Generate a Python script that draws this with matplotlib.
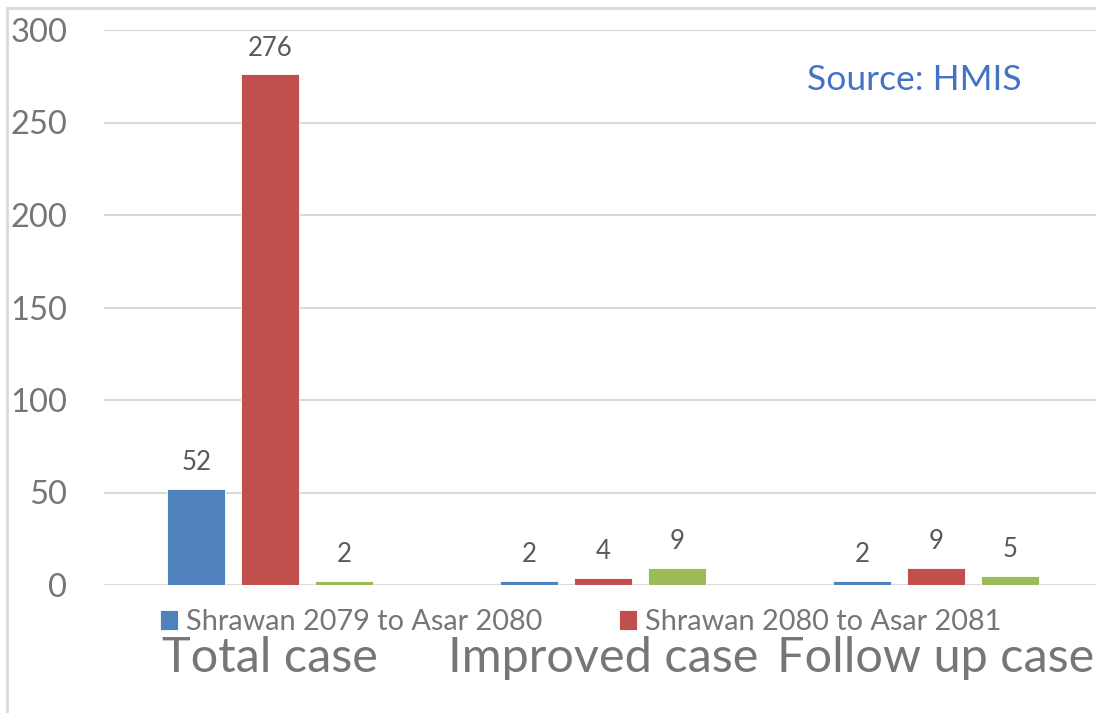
import numpy as np
import matplotlib
matplotlib.use("Agg")
import matplotlib.pyplot as plt
from matplotlib.patches import Rectangle

plt.rcParams['font.family'] = ['Lato', 'DejaVu Sans']

categories = ["Total case", "Improved case", "Follow up case"]
series_names = ["Shrawan 2079 to Asar 2080", "Shrawan 2080 to Asar 2081", "_nolegend_"]
values_2079 = [52, 2, 2]
values_2080 = [276, 4, 9]
values_third = [2, 9, 5]
colors = ["#4F81BD", "#C0504D", "#9BBB59"]
yticks = [0, 50, 100, 150, 200, 250, 300]

fig = plt.figure(figsize=(10.96, 7.13), dpi=100)
ax = fig.add_axes([103.5 / 1096, 128 / 713, 999 / 1096, 555 / 713])

# chart area border (partially visible)
fig.patches.append(Rectangle((7 / 1096, -0.05), 1.2, 1.05 - 8 / 713,
                             transform=fig.transFigure, fill=False,
                             edgecolor="#d9d9d9", linewidth=2))

x = np.arange(len(categories))
step = 0.222
width = 0.174
all_series = [values_2079, values_2080, values_third]
for i, (vals, name, c) in enumerate(zip(all_series, series_names, colors)):
    bars = ax.bar(x + (i - 1) * step, vals, width, color=c, label=name,
                  edgecolor="white", linewidth=0.6, zorder=3)
    ax.bar_label(bars, labels=[str(v) for v in vals], padding=10,
                 fontsize=18.5, color="#595959")

ax.set_xlim(-0.5, 2.5)
ax.set_ylim(0, 300)
ax.set_yticks(yticks)
ax.set_yticklabels([str(t) for t in yticks], fontsize=23.5, color="#767676")
ax.grid(axis="y", color="#d9d9d9", linewidth=1.5, zorder=0)
ax.tick_params(axis="y", length=0, pad=26)
ax.set_xticks(x)
ax.set_xticklabels(categories, fontsize=35, color="#767676")
ax.tick_params(axis="x", length=0, pad=37)
for s in ax.spines.values():
    s.set_visible(False)

ax.legend(loc="center", bbox_to_anchor=(0.478, -0.067), ncol=2, frameon=False,
          fontsize=20.8, labelcolor="#767676", handlelength=0.6, handleheight=0.65,
          handletextpad=0.3, columnspacing=2.65, borderaxespad=0)

fig.text(914 / 1096, 1 - 80 / 713, "Source: HMIS", fontsize=25.5, color="#4472C4",
         ha="center", va="center")

fig.savefig("out.png", dpi=100)
